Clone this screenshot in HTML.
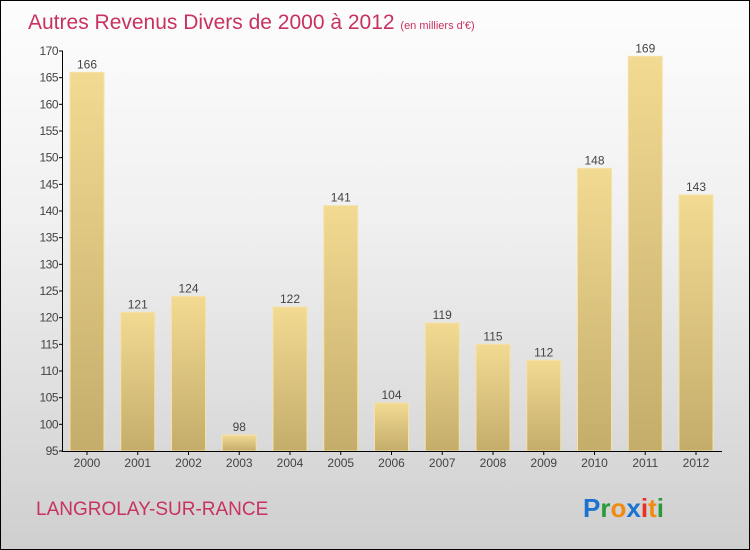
<!DOCTYPE html>
<html><head><meta charset="utf-8"><style>
body{margin:0}
#c{position:relative;width:748px;height:548px;border:1px solid #000;background:linear-gradient(#fdfdfd,#f0f0f0 40%,#cfcfcf);font-family:"Liberation Sans",sans-serif;overflow:hidden}
svg{position:absolute;left:0;top:0}
</style></head><body>
<div id="c">
<svg id="s" width="750" height="550">
<defs><linearGradient id="g" x1="0" y1="0" x2="0" y2="1"><stop offset="0" stop-color="#f2da92"/><stop offset="1" stop-color="#c4ad6b"/></linearGradient></defs>
<text x="27" y="28" font-size="21" fill="#c8325f">Autres Revenus Divers de 2000 à 2012 <tspan font-size="11" fill="#c8325f">(en milliers d'€)</tspan></text>
<text x="35" y="514" font-size="19" fill="#c8325f">LANGROLAY-SUR-RANCE</text>
<text x="582" y="516" font-size="26" font-weight="bold"><tspan fill="#1a73d0">P</tspan><tspan fill="#2a9a3a">r</tspan><tspan fill="#f08a10">o</tspan><tspan fill="#1a73d0">x</tspan><tspan fill="#e83020">i</tspan><tspan fill="#f08a10">t</tspan><tspan fill="#2a9a3a">i</tspan></text>
</svg>
</div>
<script>
const years=["2000","2001","2002","2003","2004","2005","2006","2007","2008","2009","2010","2011","2012"];
const values=[166,121,124,98,122,141,104,119,115,112,148,169,143];
const ticks=[95,100,105,110,115,120,125,130,135,140,145,150,155,160,165,170];
const s=document.getElementById('s');const NS="http://www.w3.org/2000/svg";
const y=v=>450-(v-95)*400/75;const x=i=>86+i*50.75;
function mk(t,a){const e=document.createElementNS(NS,t);for(const k in a)e.setAttribute(k,a[k]);s.appendChild(e);return e;}
years.forEach((yr,i)=>{
const b=mk('rect',{x:x(i)-17,y:y(values[i]),width:34,height:450-y(values[i]),fill:'url(#g)',stroke:'#f5e2a8','stroke-width':1});


const t=mk('text',{x:x(i),y:y(values[i])-4,'text-anchor':'middle','font-size':12,fill:'#444'});t.textContent=values[i];


const l=mk('text',{x:x(i),y:466,'text-anchor':'middle','font-size':12,fill:'#444'});l.textContent=yr;


mk('line',{x1:x(i),x2:x(i),y1:450,y2:454,stroke:'#000'});
});
ticks.forEach(v=>{
mk('line',{x1:58,x2:62,y1:y(v),y2:y(v),stroke:'#000'});
const t=mk('text',{x:57,y:y(v)+4,'text-anchor':'end','font-size':12,fill:'#444','letter-spacing':'-0.5'});t.textContent=v;


});
const ya=mk('line',{x1:61.5,x2:61.5,y1:50,y2:450,stroke:'#000'});


const xa=mk('line',{x1:61,x2:721,y1:450.5,y2:450.5,stroke:'#000'});


</script>
</body></html>
